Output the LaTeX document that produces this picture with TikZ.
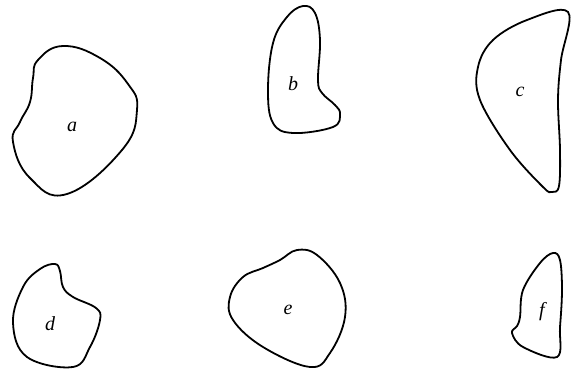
\documentclass[tikz,border=0pt]{standalone}
\usepackage{fontspec}
\setmainfont{Liberation Serif}
\begin{document}
\begin{tikzpicture}[x=1pt,y=-1pt,
  outline/.style={draw=black,line width=1.8pt},
  lab/.style={font=\itshape\fontsize{20}{20}\selectfont}]
\useasboundingbox (0,0) rectangle (573,377);
% a
\draw[outline] plot[smooth cycle,tension=0.75] coordinates {(38,60) (63,46) (100,58) (128,84) (137,110) (122,150) (67,194) (30,178) (13,142) (20,122) (30,102) (33,78)};
\node[lab] (la) at (72,127) {a};
% b
\draw[outline] plot[smooth cycle,tension=0.65] coordinates {(303,6) (315,13) (320,40) (318,80) (322,93) (335,105) (340,114) (333,127) (293,133) (273,123) (268,90) (273,43) (287,17)};
\node[lab] (lb) at (293,84) {b};
% c
\draw[outline] plot[smooth cycle,tension=0.6] coordinates {(568,12) (561,60) (558,100) (560,150) (559,186) (552,192) (543,187) (510,150) (480,100) (478,67) (493,40) (527,20)};
\node[lab] (lc) at (520,92) {c};
% d
\draw[outline] plot[smooth cycle,tension=0.65] coordinates {(55,264) (60,271) (63,287) (73,297) (96,308) (100,320) (90,347) (73,367) (27,357) (13,323) (23,287) (40,269)};
\node[lab] (ld) at (50,324) {d};
% e
\draw[outline] plot[smooth cycle,tension=0.65] coordinates {(297,250) (317,255) (340,283) (345,317) (330,353) (310,367) (263,347) (233,320) (230,297) (243,277) (263,268) (280,260)};
\node[lab] (le) at (288,310) {e};
% f
\draw[outline] plot[smooth cycle,tension=0.6] coordinates {(553,253) (560,260) (562,290) (560,327) (557,357) (523,347) (512,333) (517,326) (520,317) (523,290) (540,263)};
\node[lab] (lf) at (542,312) {f};
\end{tikzpicture}
\end{document}
